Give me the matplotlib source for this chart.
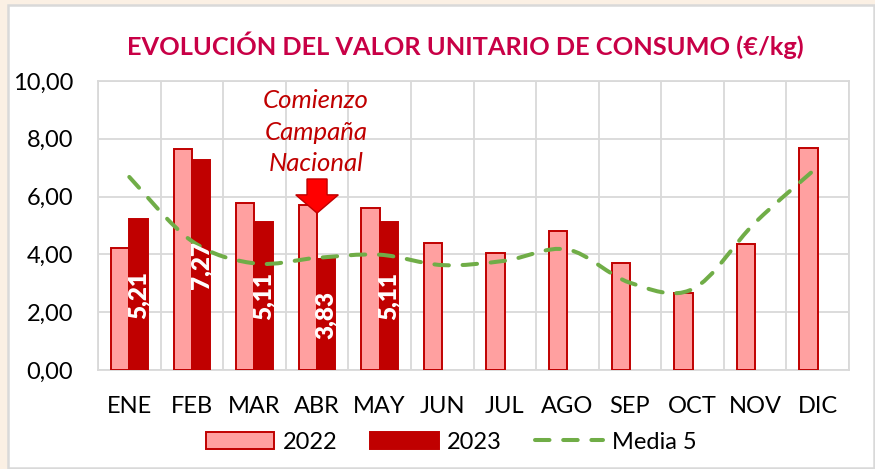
import numpy as np
import matplotlib.pyplot as plt
from matplotlib.path import Path
from matplotlib.patches import PathPatch, Rectangle, FancyArrow
from matplotlib.lines import Line2D
from matplotlib.ticker import FuncFormatter

plt.rcParams['font.family'] = ['Lato', 'DejaVu Sans']

meses = ['ENE', 'FEB', 'MAR', 'ABR', 'MAY', 'JUN', 'JUL', 'AGO', 'SEP', 'OCT', 'NOV', 'DIC']
valor_2022 = [4.23, 7.66, 5.79, 5.70, 5.62, 4.40, 4.04, 4.82, 3.70, 2.65, 4.37, 7.67]
valor_2023 = [5.21, 7.27, 5.11, 3.83, 5.11]
media_5 = [6.68, 4.46, 3.69, 3.88, 3.99, 3.63, 3.78, 4.17, 3.02, 2.80, 5.10, 7.03]

ROSA = '#FFA0A0'
ROJO = '#C00000'
VERDE = '#70AD47'
GRIS = '#D9D9D9'
FONDO = '#FBF0E4'


def smooth_path(xs, ys, k=1 / 6):
    # cubic bezier through every point, like a spreadsheet "smoothed line"
    pts = np.column_stack([xs, ys])
    verts = [pts[0]]
    codes = [Path.MOVETO]
    n = len(pts)
    for i in range(n - 1):
        p0 = pts[max(i - 1, 0)]
        p1 = pts[i]
        p2 = pts[i + 1]
        p3 = pts[min(i + 2, n - 1)]
        c1 = p1 + (p2 - p0) * k
        c2 = p2 - (p3 - p1) * k
        verts += [c1, c2, p2]
        codes += [Path.CURVE4] * 3
    return Path(verts, codes)


fig = plt.figure(figsize=(8.75, 4.69), dpi=100, facecolor=FONDO)
fig.patches.append(Rectangle((8 / 875, 1 / 469), 865.5 / 875, 463 / 469,
                             transform=fig.transFigure, facecolor='white',
                             edgecolor=GRIS, linewidth=1.8, zorder=-1))

ax = fig.add_axes([98 / 875, 1 - 370 / 469, 751 / 875, 289 / 469])
ax.set_zorder(1)
ax.set_facecolor('white')

x = np.arange(len(meses))
w = 0.293
ax.bar(x - w / 2, valor_2022, w, color=ROSA, edgecolor=ROJO, linewidth=1.4, zorder=3)
x23 = x[:len(valor_2023)]
ax.bar(x23 + w / 2, valor_2023, w, color=ROJO, edgecolor=ROJO, linewidth=1.4, zorder=3)

for xi, v in zip(x23, valor_2023):
    ax.text(xi + w / 2, v / 2, f'{v:.2f}'.replace('.', ','), rotation=90,
            ha='center', va='center', color='white', fontsize=17.5,
            fontweight='heavy', zorder=5)

ax.add_patch(PathPatch(smooth_path(x, media_5), facecolor='none', edgecolor=VERDE,
                       linewidth=2.9, linestyle=(0, (3.6, 3.4)), capstyle='round',
                       zorder=4))

ax.set_xlim(-0.5, len(meses) - 0.5)
ax.set_ylim(0, 10)
ax.set_yticks(np.arange(0, 10.1, 2))
ax.yaxis.set_major_formatter(FuncFormatter(lambda v, _: f'{v:.2f}'.replace('.', ',')))
ax.set_xticks(x)
ax.set_xticklabels(meses)
ax.set_xticks(np.arange(-0.5, len(meses), 1), minor=True)
ax.grid(axis='y', which='major', color=GRIS, linewidth=1.3, zorder=0)
ax.grid(axis='x', which='minor', color=GRIS, linewidth=1.3, zorder=0)
ax.set_axisbelow(True)
for s in ax.spines.values():
    s.set_color(GRIS)
    s.set_linewidth(1.3)
ax.tick_params(axis='both', which='both', length=0, labelsize=17, colors='black')
ax.tick_params(axis='y', pad=18)
ax.tick_params(axis='x', pad=19)

# campaign marker over April
i_abr = meses.index('ABR')
ax.text(i_abr - 0.02, 8.22, 'Comienzo\nCampaña\nNacional', ha='center', va='center',
        fontsize=18.5, style='italic', color=ROJO, linespacing=1.45, zorder=6)
ax.add_patch(FancyArrow(i_abr, 6.61, 0, -1.18, width=0.32, head_width=0.68,
                        head_length=0.63, length_includes_head=True,
                        facecolor='#FF0000', edgecolor=ROJO, linewidth=1.0, zorder=6))

fig.text(465 / 875, 1 - 45 / 469, 'EVOLUCIÓN DEL VALOR UNITARIO DE CONSUMO (€/kg)',
         ha='center', va='center', fontsize=18.3, fontweight='bold', color='#C80046')

handles = [
    Rectangle((0, 0), 1, 1, facecolor=ROSA, edgecolor=ROJO, linewidth=1.4),
    Rectangle((0, 0), 1, 1, facecolor=ROJO, edgecolor=ROJO, linewidth=1.4),
    Line2D([], [], color=VERDE, linewidth=2.9, linestyle=(0, (3.6, 3.4)),
           dash_capstyle='round'),
]
fig.legend(handles, ['2022', '2023', 'Media 5'], loc='center', ncol=3,
           bbox_to_anchor=(451 / 875, 1 - 442 / 469), frameon=False, fontsize=17,
           handlelength=2.9, handleheight=0.75, handletextpad=0.35, columnspacing=1.4)

fig.savefig('out.png', dpi=100, facecolor=FONDO)
